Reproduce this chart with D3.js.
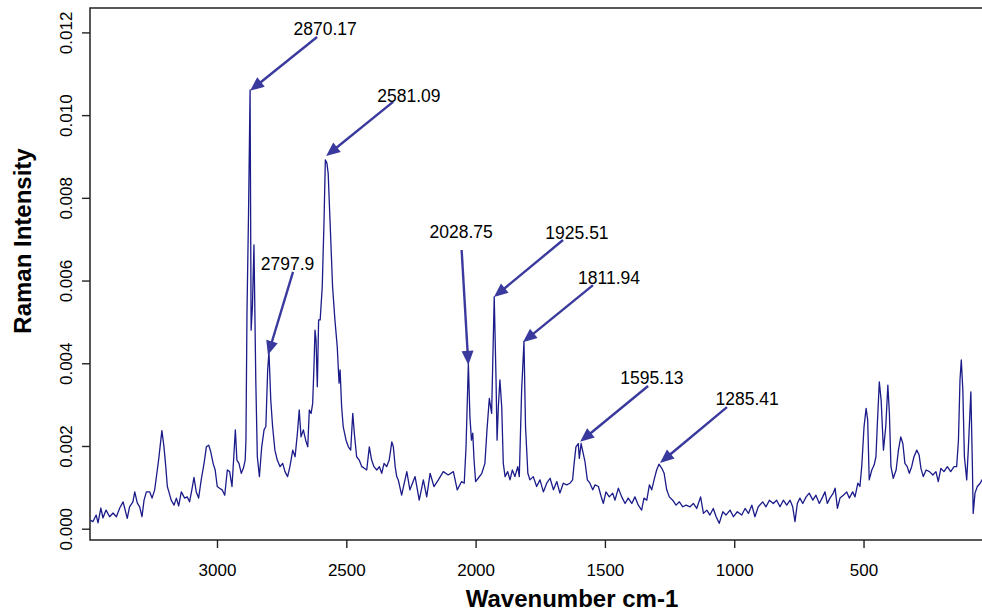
<!DOCTYPE html>
<html>
<head>
<meta charset="utf-8">
<script src="https://cdn.jsdelivr.net/npm/d3@7"></script>
<style>
body { margin: 0; overflow: hidden; background: #fff; }
text { font-family: "Liberation Sans", Arial, Helvetica, sans-serif; fill: #000; }
</style>
</head>
<body>
<div class="container"></div>
<script>
// spectrum (wavenumber in cm-1, intensity)
var wavenumber = [3491,3480,3467,3460,3449,3441,3429,3415,3402,3389,3376,3363,3357,3347,3338,3325,3318,3308,3299,3290,
  3282,3273,3260,3251,3241,3235,3225,3218,3213,3205,3198,3192,3186,3177,3166,3157,3148,3138,3125,3115,
  3106,3096,3089,3080,3071,3061,3050,3041,3032,3024,3015,3007,2999,2990,2980,2970,2960,2951,2942,2935,
  2929,2923,2915,2906,2898,2891,2888,2884,2878,2872,2868,2863,2857,2850,2844,2836,2827,2818,2811,2804,
  2799,2792,2785,2776,2767,2756,2746,2737,2727,2718,2707,2698,2689,2682,2675,2666,2657,2649,2643,2636,
  2630,2625,2621,2617,2612,2607,2601,2593,2586,2581,2575,2570,2563,2553,2544,2535,2528,2524,2518,2512,
  2501,2492,2483,2475,2469,2460,2450,2440,2432,2421,2411,2402,2393,2382,2372,2363,2354,2344,2334,2324,
  2318,2311,2305,2299,2286,2266,2254,2234,2218,2202,2189,2176,2161,2144,2125,2106,2086,2071,2054,2044,
  2037,2028,2022,2016,2011,2006,2000,1990,1976,1964,1956,1947,1938,1928,1921,1917,1912,1906,1899,1893,
  1886,1876,1867,1858,1848,1837,1831,1822,1813,1807,1798,1790,1777,1764,1751,1738,1725,1712,1699,1686,
  1674,1661,1648,1635,1625,1619,1612,1603,1599,1592,1584,1577,1568,1558,1547,1538,1525,1516,1506,1496,
  1483,1470,1461,1448,1435,1422,1410,1396,1384,1371,1358,1349,1338,1328,1319,1310,1300,1291,1280,1271,
  1261,1251,1238,1225,1212,1199,1186,1171,1158,1145,1130,1119,1106,1094,1081,1070,1058,1044,1032,1016,
  1003,988,971,958,945,932,920,907,890,877,864,849,836,823,810,797,784,774,765,756,
  746,735,722,710,696,684,671,658,649,640,630,617,610,601,591,578,565,555,542,533,
  522,514,507,498,490,484,478,468,459,452,447,439,432,423,414,406,400,394,385,374,
  365,356,348,340,331,323,314,305,294,285,278,269,258,245,232,220,211,201,189,176,
  163,150,140,133,127,122,116,110,101,95,85,79,76,69,60,49,42,35];

var intensity = [0.00021,0.00017,0.00033,0.00014,0.00050,0.00026,0.00045,0.00029,0.00038,0.00029,0.00050,0.00065,0.00050,0.00025,0.00053,0.00065,0.00089,0.00062,0.00053,0.00029,
  0.00069,0.00089,0.00089,0.00074,0.00094,0.00122,0.00170,0.00210,0.00237,0.00198,0.00150,0.00102,0.00089,0.00069,0.00057,0.00074,0.00055,0.00089,0.00074,0.00077,
  0.00065,0.00098,0.00124,0.00089,0.00074,0.00118,0.00158,0.00198,0.00202,0.00186,0.00158,0.00142,0.00102,0.00098,0.00094,0.00081,0.00142,0.00138,0.00102,0.00174,
  0.00239,0.00166,0.00158,0.00134,0.00146,0.00166,0.00214,0.00522,0.00763,0.01061,0.00480,0.00537,0.00686,0.00360,0.00174,0.00126,0.00198,0.00239,0.00247,0.00384,
  0.00428,0.00311,0.00247,0.00190,0.00166,0.00150,0.00158,0.00138,0.00126,0.00150,0.00190,0.00174,0.00231,0.00287,0.00222,0.00239,0.00214,0.00198,0.00287,0.00279,
  0.00303,0.00392,0.00480,0.00456,0.00343,0.00505,0.00505,0.00585,0.00746,0.00892,0.00884,0.00859,0.00746,0.00585,0.00505,0.00440,0.00352,0.00384,0.00295,0.00247,
  0.00214,0.00198,0.00190,0.00279,0.00231,0.00174,0.00166,0.00150,0.00147,0.00142,0.00198,0.00166,0.00150,0.00142,0.00150,0.00134,0.00158,0.00150,0.00166,0.00210,
  0.00198,0.00150,0.00126,0.00118,0.00081,0.00138,0.00094,0.00126,0.00069,0.00118,0.00077,0.00134,0.00102,0.00118,0.00138,0.00130,0.00138,0.00094,0.00114,0.00110,
  0.00198,0.00400,0.00271,0.00214,0.00231,0.00166,0.00114,0.00122,0.00134,0.00158,0.00239,0.00315,0.00279,0.00561,0.00360,0.00214,0.00295,0.00360,0.00295,0.00158,
  0.00126,0.00138,0.00118,0.00142,0.00126,0.00150,0.00126,0.00335,0.00452,0.00247,0.00134,0.00118,0.00126,0.00102,0.00118,0.00089,0.00110,0.00122,0.00094,0.00114,
  0.00086,0.00110,0.00106,0.00110,0.00118,0.00158,0.00198,0.00206,0.00170,0.00206,0.00182,0.00162,0.00118,0.00110,0.00094,0.00106,0.00102,0.00081,0.00061,0.00089,
  0.00077,0.00086,0.00069,0.00098,0.00077,0.00061,0.00074,0.00061,0.00077,0.00057,0.00045,0.00074,0.00069,0.00106,0.00094,0.00118,0.00142,0.00156,0.00146,0.00134,
  0.00094,0.00077,0.00069,0.00057,0.00065,0.00053,0.00057,0.00053,0.00061,0.00049,0.00077,0.00037,0.00045,0.00033,0.00049,0.00029,0.00013,0.00041,0.00033,0.00045,
  0.00029,0.00041,0.00033,0.00049,0.00037,0.00057,0.00029,0.00053,0.00065,0.00053,0.00069,0.00061,0.00069,0.00053,0.00069,0.00057,0.00069,0.00053,0.00017,0.00061,
  0.00074,0.00061,0.00077,0.00086,0.00069,0.00081,0.00061,0.00077,0.00089,0.00061,0.00074,0.00086,0.00098,0.00049,0.00074,0.00081,0.00089,0.00074,0.00089,0.00077,
  0.00110,0.00102,0.00150,0.00247,0.00291,0.00263,0.00118,0.00142,0.00154,0.00174,0.00247,0.00355,0.00311,0.00190,0.00247,0.00347,0.00279,0.00150,0.00122,0.00142,
  0.00190,0.00222,0.00206,0.00158,0.00150,0.00134,0.00150,0.00174,0.00190,0.00178,0.00146,0.00126,0.00142,0.00138,0.00130,0.00138,0.00114,0.00146,0.00138,0.00150,
  0.00138,0.00150,0.00150,0.00214,0.00360,0.00408,0.00335,0.00174,0.00118,0.00190,0.00331,0.00150,0.00037,0.00086,0.00102,0.00110,0.00118,0.00122];

var xTicks = [3000, 2500, 2000, 1500, 1000, 500];
var yTicks = [0, 0.002, 0.004, 0.006, 0.008, 0.010, 0.012];

// peak annotations: label, arrow start (label end) and arrow tip, in data units
var peakLabels = ["2870.17", "2581.09", "2797.9", "2028.75", "1925.51", "1811.94", "1595.13", "1285.41"];
var labelWn    = [2582, 2258, 2727, 2056, 1608, 1484, 1318, 950];
var labelI     = [0.01209, 0.01046, 0.00641, 0.00719, 0.00716, 0.00607, 0.00366, 0.00314];
var fromWn     = [2613, 2319, 2706, 2054, 1662, 1546, 1333, 1028];
var fromI      = [0.01189, 0.01032, 0.00621, 0.00674, 0.00698, 0.00589, 0.00345, 0.00294];
var tipWn      = [2872, 2578, 2803, 2028, 1929, 1817, 1596, 1287];
var tipI       = [0.01059, 0.00901, 0.00420, 0.00396, 0.00560, 0.00451, 0.00210, 0.00159];

const LEFT = 90;
const RIGHT = 990;
const TOP = 8;
const BOTTOM = 540;
const LINECOLOR = "#1b1b8a";
const ARROWCOLOR = "#3a3a9e";

var svg = d3.select('.container').append('svg').attr("width", 982).attr("height", 613);

var x = d3.scaleLinear().domain([3491, 11]).range([LEFT, RIGHT]);
var y = d3.scaleLinear().domain([-0.000273, 0.01259]).range([BOTTOM, TOP]);

// x axis
var xAxis = svg.append("g")
  .attr("transform", "translate(0," + BOTTOM + ")")
  .call(d3.axisBottom(x).tickValues(xTicks).tickSize(8).tickSizeOuter(0).tickPadding(16).tickFormat(d3.format("d")));
xAxis.select(".domain").remove();
xAxis.selectAll("line").attr("stroke", "#222").attr("stroke-width", 1.4);
xAxis.selectAll("text").attr("font-size", 17).attr("fill", "#000")
  .attr("font-family", "Liberation Sans, Arial, sans-serif");

// y axis, labels turned like R does it
var yAxis = svg.append("g")
  .attr("transform", "translate(" + LEFT + ",0)")
  .call(d3.axisLeft(y).tickValues(yTicks).tickSize(8).tickSizeOuter(0).tickFormat(d3.format(".3f")));
yAxis.select(".domain").remove();
yAxis.selectAll("line").attr("stroke", "#222").attr("stroke-width", 1.4);
yAxis.selectAll("text")
  .attr("x", null).attr("dy", null)
  .attr("text-anchor", "middle")
  .attr("transform", "translate(-18,0) rotate(-90)")
  .attr("font-size", 17).attr("fill", "#000")
  .attr("font-family", "Liberation Sans, Arial, sans-serif");

// box (right side runs off the picture)
svg.append("path")
  .attr("d", "M" + RIGHT + "," + TOP + "H" + LEFT + "V" + BOTTOM + "H" + RIGHT)
  .attr("fill", "none")
  .attr("stroke", "#222")
  .attr("stroke-width", 1.5);

// spectrum
var points = wavenumber.map(function(w, i){ return [w, intensity[i]]; });
svg.append("path")
  .datum(points)
  .attr("fill", "none")
  .attr("stroke", LINECOLOR)
  .attr("stroke-width", 1.3)
  .attr("stroke-linejoin", "round")
  .attr("d", d3.line().x(function(d){ return x(d[0]); }).y(function(d){ return y(d[1]); }));

// annotations
var drawArrow = function(x1, y1, x2, y2){
  var dx = x2 - x1, dy = y2 - y1;
  var len = Math.sqrt(dx*dx + dy*dy);
  var ux = dx/len, uy = dy/len;
  var headLen = 14, headW = 6;
  var bx = x2 - ux*headLen, by = y2 - uy*headLen;
  svg.append("line")
    .attr("x1", x1).attr("y1", y1)
    .attr("x2", bx + ux*2).attr("y2", by + uy*2)
    .attr("stroke", ARROWCOLOR)
    .attr("stroke-width", 2.4);
  var pts = [[x2, y2], [bx - uy*headW, by + ux*headW], [bx + uy*headW, by - ux*headW]].join(" ");
  svg.append("polygon")
    .attr("points", pts)
    .attr("fill", ARROWCOLOR);
};

peakLabels.forEach(function(label, i){
  drawArrow(x(fromWn[i]), y(fromI[i]), x(tipWn[i]), y(tipI[i]));
  svg.append("text")
    .attr("x", x(labelWn[i]))
    .attr("y", y(labelI[i]))
    .attr("dy", "0.36em")
    .attr("text-anchor", "middle")
    .attr("font-size", 17.5)
    .text(label);
});

// axis titles
svg.append("text")
  .attr("x", 572).attr("y", 607)
  .attr("text-anchor", "middle")
  .attr("font-size", 24).attr("font-weight", "bold")
  .text("Wavenumber cm-1");

svg.append("text")
  .attr("transform", "translate(31,241) rotate(-90)")
  .attr("text-anchor", "middle")
  .attr("font-size", 24).attr("font-weight", "bold")
  .text("Raman Intensity");
</script>
</body>
</html>
